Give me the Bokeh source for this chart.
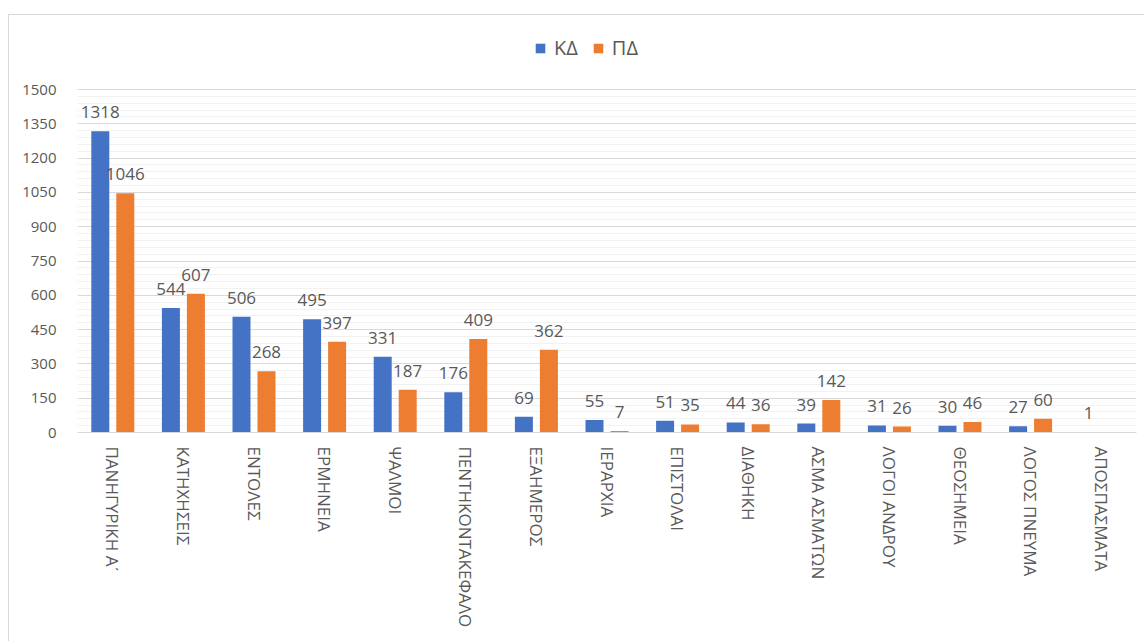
from bokeh.plotting import figure
from bokeh.models import (ColumnDataSource, FactorRange, Range1d, FixedTicker,
                          Legend, LegendItem)
from bokeh.transform import dodge
from bokeh.core.properties import value
from bokeh.embed import file_html
from bokeh.resources import INLINE

categories = ["ΠΑΝΗΓΥΡΙΚΗ Α\u0374", "ΚΑΤΗΧΗΣΕΙΣ", "ΕΝΤΟΛΕΣ", "ΕΡΜΗΝΕΙΑ", "ΨΑΛΜΟΙ",
              "ΠΕΝΤΗΚΟΝΤΑΚΕΦΑΛΟ", "ΕΞΑΗΜΕΡΟΣ", "ΙΕΡΑΡΧΙΑ", "ΕΠΙΣΤΟΛΑΙ", "ΔΙΑΘΗΚΗ",
              "ΑΣΜΑ ΑΣΜΑΤΩΝ", "ΛΟΓΟΙ ΑΝΔΡΟΥ", "ΘΕΟΣΗΜΕΙΑ", "ΛΟΓΟΣ ΠΝΕΥΜΑ", "ΑΠΟΣΠΑΣΜΑΤΑ"]
kd = [1318, 544, 506, 495, 331, 176, 69, 55, 51, 44, 39, 31, 30, 27, 1]
pd_ = [1046, 607, 268, 397, 187, 409, 362, 7, 35, 36, 142, 26, 46, 60, None]
series_names = ["ΚΔ", "ΠΔ"]
colors = ["#4472C4", "#ED7D31"]
y_ticks = [0, 150, 300, 450, 600, 750, 900, 1050, 1200, 1350, 1500]
y_minor_ticks = list(range(0, 1501, 30))

FONT = "Open Sans"
GRAY = "#595959"

# the y range extends above the top tick to leave room for the legend inside the frame
p = figure(x_range=FactorRange(*categories, range_padding=0),
           y_range=Range1d(0, 1780),
           width=1136, height=627, output_backend="svg", toolbar_location=None,
           min_border_left=68, min_border_top=10, min_border_right=9, min_border_bottom=210,
           margin=(14, 0, 0, 8),
           styles={"border-left": "1px solid #D9D9D9", "border-top": "1px solid #D9D9D9",
                   "box-sizing": "border-box"})
p.outline_line_color = None

src_kd = ColumnDataSource(dict(cat=categories, v=kd, t=[str(v) for v in kd]))
pd_cats = [c for c, v in zip(categories, pd_) if v is not None]
pd_vals = [v for v in pd_ if v is not None]
src_pd = ColumnDataSource(dict(cat=pd_cats, v=pd_vals, t=[str(v) for v in pd_vals]))

off = 0.177
bw = 0.255
r1 = p.vbar(x=dodge("cat", -off, range=p.x_range), top="v", width=bw, source=src_kd,
            fill_color=colors[0], line_color=None)
r2 = p.vbar(x=dodge("cat", off, range=p.x_range), top="v", width=bw, source=src_pd,
            fill_color=colors[1], line_color=None)

for src, o in ((src_kd, -off), (src_pd, off)):
    p.text(x=dodge("cat", o, range=p.x_range), y="v", text="t", source=src,
           text_align="center", text_baseline="alphabetic", y_offset=-19,
           text_font=value(FONT), text_font_size="17px", text_color=GRAY)

# axes
p.yaxis.ticker = FixedTicker(ticks=y_ticks, minor_ticks=y_minor_ticks)
p.yaxis.axis_line_color = None
p.yaxis.major_tick_line_color = None
p.yaxis.minor_tick_line_color = None
p.yaxis.major_label_text_font = FONT
p.yaxis.major_label_text_font_size = "15px"
p.yaxis.major_label_text_color = GRAY
p.yaxis.major_label_standoff = 15

p.xaxis.axis_line_color = "#D9D9D9"
p.xaxis.major_tick_line_color = None
p.xaxis.minor_tick_line_color = None
p.xaxis.major_label_orientation = "vertical"
p.xaxis.major_label_text_font = FONT
p.xaxis.major_label_text_font_size = "17px"
p.xaxis.major_label_text_color = GRAY
p.xaxis.major_label_standoff = 8

p.xgrid.grid_line_color = None
p.ygrid.grid_line_color = "#D9D9D9"
p.ygrid.minor_grid_line_color = "#F2F2F2"

legend = Legend(items=[LegendItem(label=series_names[0], renderers=[r1]),
                       LegendItem(label=series_names[1], renderers=[r2])],
                orientation="horizontal", location=(457, 371),
                padding=0, margin=0, spacing=14, label_standoff=8,
                glyph_width=12, glyph_height=12,
                label_text_font=FONT, label_text_font_size="20px", label_text_color=GRAY,
                border_line_color=None, background_fill_alpha=0)
p.add_layout(legend, "center")

open("out.html", "w").write(file_html(p, INLINE))
